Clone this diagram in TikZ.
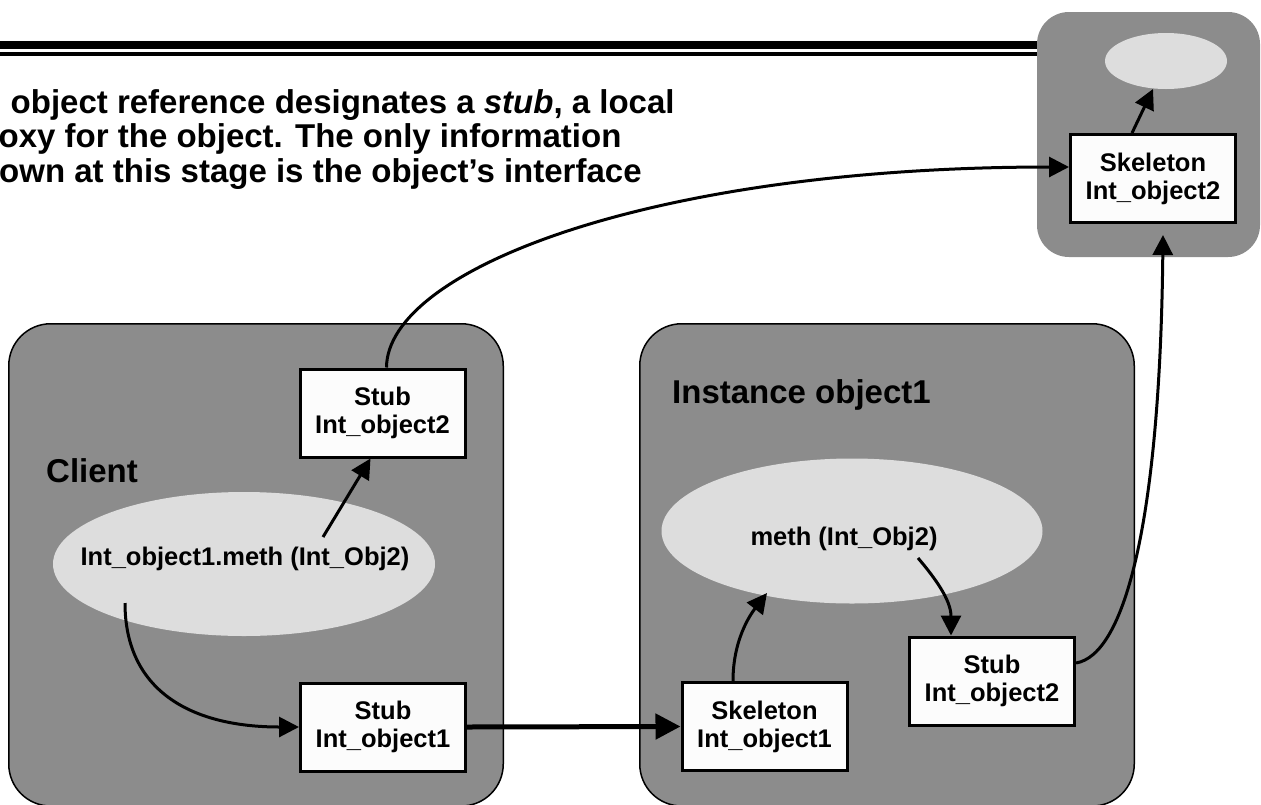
\documentclass[tikz,border=0pt]{standalone}
\usepackage{fontspec}
\setmainfont{Liberation Sans}
\usetikzlibrary{arrows.meta,shapes.geometric}
\definecolor{panelgray}{RGB}{140,140,140}
\definecolor{blobgray}{RGB}{221,221,221}
\definecolor{boxwhite}{RGB}{252,252,252}
\newcommand{\headfont}{\fontsize{33}{34.5}\selectfont\bfseries}
\newcommand{\boxfont}{\fontsize{25.5}{28}\selectfont\bfseries}
\begin{document}
\begin{tikzpicture}[x=1pt,y=-1pt,
  panel/.style={draw=black, line width=1.5pt, fill=panelgray, rounded corners=42pt},
  callbox/.style={draw=black, line width=3pt, fill=boxwhite, inner sep=0pt,
    minimum width=165pt, minimum height=88pt, align=center, font=\boxfont},
  blob/.style={ellipse, fill=blobgray, inner sep=0pt},
  caption/.style={inner sep=0pt, anchor=base west, font=\headfont},
  blobtext/.style={inner sep=0pt, anchor=base, font=\boxfont},
  arr/.style={line width=3pt, -{Triangle[length=20pt,width=20pt]}},
  thickarr/.style={line width=5pt, -{Triangle[length=25pt,width=25pt]}}]
\useasboundingbox (0,0) rectangle (1261,804);
\begin{scope}
\clip (0,0) rectangle (1261,804);

% header rules
\fill[black] (0,41) rectangle (1045,49.3);
\fill[black] (0,52) rectangle (1045,56);

% header text
\node[caption] (hd1) at (10.5,113) {object reference designates a \textit{stub}, a local};
\node[caption] (hd2) at (-1.5,147.5) {oxy for the object. The only information};
\node[caption] (hd3) at (-1,182) {own at this stage is the object’s interface};

% server panel (top right)
\fill[panelgray, rounded corners=32pt] (1037,12) rectangle (1260,257);
\node[blob, minimum width=122pt, minimum height=56pt] (rblob) at (1166,61) {};
\node[callbox] (skel2) at (1153,178.5) {Skeleton\\Int\_object2};

% client panel
\draw[panel] (8.75,323.75) rectangle (503.25,806);
\node[caption] (client) at (46,482) {Client};
\node[blob, minimum width=382pt, minimum height=144pt] (cblob) at (244,564) {};
\node[blobtext] (ctext) at (245,565) {Int\_object1.meth (Int\_Obj2)};
\node[callbox] (cstub2) at (382.5,413) {Stub\\Int\_object2};
\node[callbox] (cstub1) at (383,727) {Stub\\Int\_object1};

% instance panel
\draw[panel] (639.75,323.75) rectangle (1134.25,806);
\node[caption] (inst) at (672,403) {Instance object1};
\node[blob, minimum width=381pt, minimum height=145pt] (iblob) at (852,531) {};
\node[blobtext] (itext) at (844,545) {meth (Int\_Obj2)};
\node[callbox] (skel1) at (764.5,726.5) {Skeleton\\Int\_object1};
\node[callbox] (istub2) at (992,681) {Stub\\Int\_object2};

% connector end points inside the ellipses
\coordinate (cfrom2) at (323,537);
\coordinate (cfrom1) at (125,603);
\coordinate (iin) at (767,593);
\coordinate (iout) at (918,558);
\coordinate (rin) at (1153,89);
\coordinate (skel2in) at (1163,235);

% client calls
\draw[arr] (cfrom2) -- ([xshift=-12pt]cstub2.south);
\draw[arr] (cfrom1) .. controls (125,690) and (190,727) .. (cstub1.west);
\draw[thickarr] (cstub1.east) -- (skel1.west);
\draw[arr] ([xshift=4pt]cstub2.north) .. controls (387,270) and (650,167) .. ([yshift=11.5pt]skel2.west);

% instance calls
\draw[arr] ([xshift=-31.5pt]skel1.north) .. controls (733,640) and (750,615) .. (iin);
\draw[arr] (iout) .. controls (935,578) and (951,600) .. ([xshift=-41pt]istub2.north);
\draw[arr] ([yshift=18pt]istub2.east) .. controls (1125,655) and (1160,520) .. (skel2in);

% server call
\draw[arr] ([xshift=-21pt]skel2.north) -- (rin);
\end{scope}
\end{tikzpicture}
\end{document}
